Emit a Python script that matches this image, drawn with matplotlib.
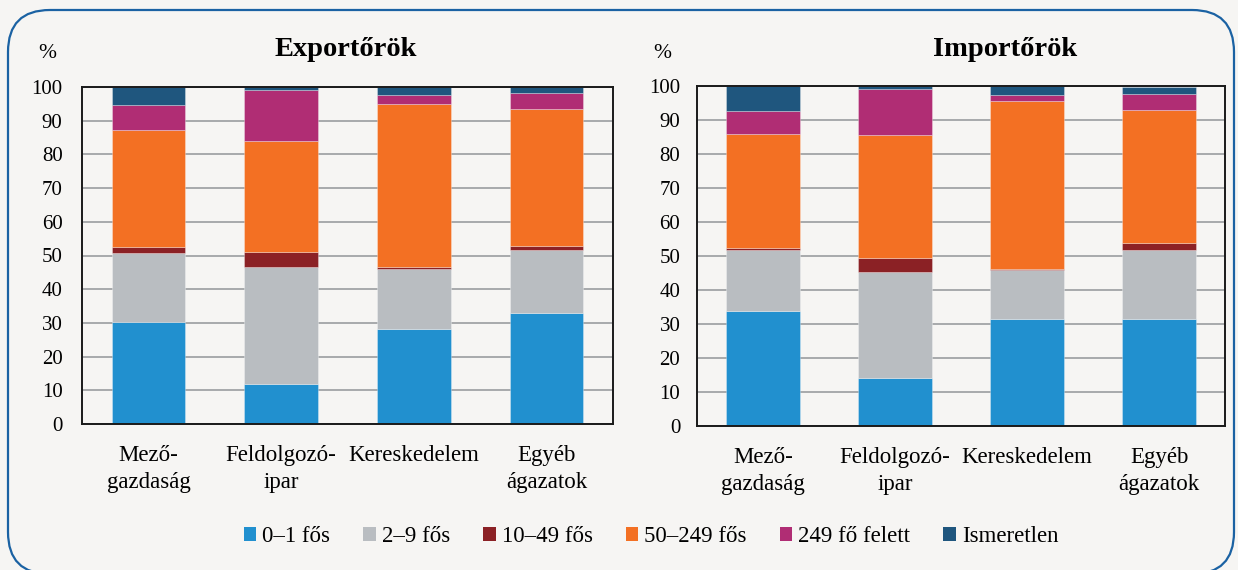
import matplotlib.pyplot as plt
import numpy as np
from matplotlib.patches import FancyBboxPatch, Patch

# categories and data (% of firms)
sectors = ["Mező-\ngazdaság", "Feldolgozó-\nipar", "Kereskedelem", "Egyéb\nágazatok"]
size_labels = ["0–1 fős", "2–9 fős", "10–49 fős", "50–249 fős", "249 fő felett", "Ismeretlen"]

exp_0_1 = [30.4, 11.8, 28.1, 33.0]
exp_2_9 = [20.4, 34.7, 18.0, 18.5]
exp_10_49 = [1.6, 4.5, 0.4, 1.4]
exp_50_249 = [34.8, 33.0, 48.4, 40.6]
exp_249 = [7.5, 15.1, 2.8, 4.7]
exp_unknown = [5.3, 0.9, 2.3, 1.8]

imp_0_1 = [33.9, 14.2, 31.5, 31.4]
imp_2_9 = [18.0, 31.1, 14.5, 20.4]
imp_10_49 = [0.6, 4.1, 0.3, 1.9]
imp_50_249 = [33.5, 36.2, 49.4, 39.2]
imp_249 = [6.6, 13.5, 1.8, 4.8]
imp_unknown = [7.4, 0.9, 2.5, 1.9]

colors = ["#2190cf", "#b9bdc1", "#8b2125", "#f37023", "#b02d74", "#1f567e"]
bg = "#f6f5f3"

plt.rcParams['font.family'] = ['Liberation Serif', 'DejaVu Serif']

fig = plt.figure(figsize=(12.38, 5.7), dpi=100, facecolor=bg)

# rounded frame around everything (pixel coords)
frame = FancyBboxPatch((8, -4), 1226, 564, boxstyle="round,pad=0,rounding_size=42",
                       transform=None, facecolor="none", edgecolor="#1b62a3", linewidth=1.6)
fig.add_artist(frame)


def draw_panel(ax, series):
    x = np.arange(len(sectors))
    bottom = np.zeros(len(sectors))
    for vals, col in zip(series, colors):
        ax.bar(x, vals, 0.555, bottom=bottom, color=col, edgecolor=(1, 1, 1, 0.35),
               linewidth=0.6, zorder=3)
        bottom += np.array(vals)
    ax.set_facecolor(bg)
    ax.set_xlim(-0.5, 3.5)
    ax.set_ylim(0, 100)
    ax.set_yticks(range(0, 101, 10))
    ax.grid(axis='y', color='#a7a9ac', linewidth=1.4, zorder=0)
    ax.set_axisbelow(True)
    ax.set_xticks(x)
    ax.set_xticklabels(sectors, fontsize=16.5, linespacing=1.38)
    ax.tick_params(axis='x', length=0, pad=15)
    ax.tick_params(axis='y', length=0, labelsize=15)
    for s in ax.spines.values():
        s.set_color('#1a1a1a')
        s.set_linewidth(1.4)
        s.set_zorder(4)


ax1 = fig.add_axes([82 / 1238, 146 / 570, 531 / 1238, 337 / 570])
ax2 = fig.add_axes([697 / 1238, 144 / 570, 528 / 1238, 340 / 570])

draw_panel(ax1, [exp_0_1, exp_2_9, exp_10_49, exp_50_249, exp_249, exp_unknown])
draw_panel(ax2, [imp_0_1, imp_2_9, imp_10_49, imp_50_249, imp_249, imp_unknown])
ax1.tick_params(axis='y', pad=14)
ax2.tick_params(axis='y', pad=12)

fig.text(346 / 1238, 1 - 50 / 570, "Exportőrök", fontsize=20.5, fontweight='bold', ha='center', va='center')
fig.text(1005 / 1238, 1 - 50 / 570, "Importőrök", fontsize=20.5, fontweight='bold', ha='center', va='center')
fig.text(47 / 1238, 1 - 53 / 570, "%", fontsize=15.5, ha='center', va='center')
fig.text(662 / 1238, 1 - 53 / 570, "%", fontsize=15.5, ha='center', va='center')

handles = [Patch(facecolor=c, edgecolor='none') for c in colors]
fig.legend(handles, size_labels, loc='center', bbox_to_anchor=(651 / 1238, 1 - 537 / 570), ncol=6,
           frameon=False, fontsize=16.5, handlelength=0.55, handleheight=0.55, handletextpad=0.25,
           columnspacing=1.45)

fig.savefig("out.png", dpi=100, facecolor=bg)
